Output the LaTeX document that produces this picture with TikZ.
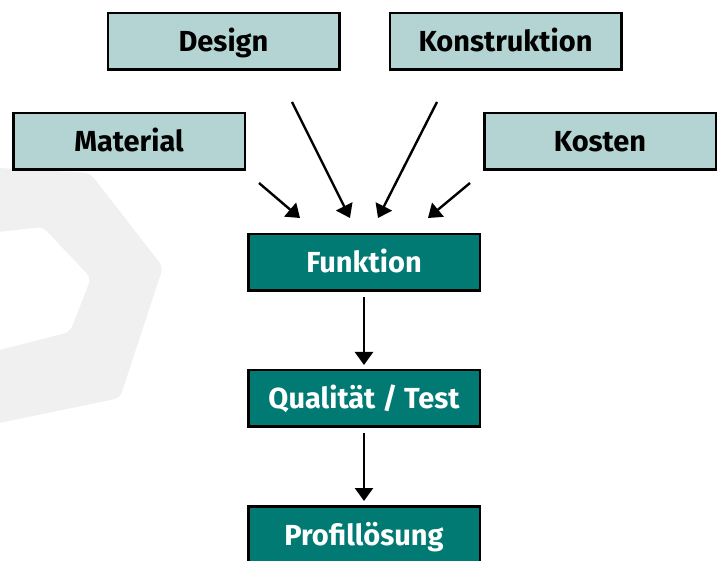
\documentclass[tikz,border=0pt]{standalone}
\usepackage{fontspec}
\setmainfont{Fira Sans}
\usetikzlibrary{positioning,calc,arrows.meta}
\definecolor{lightteal}{RGB}{179,212,211}
\definecolor{darkteal}{RGB}{0,122,115}
\definecolor{bggray}{RGB}{240,240,240}

\begin{document}
\begin{tikzpicture}[
    x=1pt, y=1pt,
    every node/.style={draw=black, line width=2.5pt, inner sep=0,
        minimum width=231.5pt, minimum height=56.5pt,
        text height=21pt, text depth=0pt,
        font=\fontsize{29}{32}\selectfont\bfseries},
    inbox/.style={fill=lightteal, text=black},
    outbox/.style={fill=darkteal, text=white},
    arr/.style={-{Triangle[width=18pt,length=13pt]}, line width=2.4pt}
]
\useasboundingbox (0,0) rectangle (723,560) ;
\fill[bggray, rounded corners=6pt, even odd rule]
    (-20,393) -- (90,387) -- (163,293) -- (120,162) -- (-20,133) -- cycle
    (-20,326) -- (43,333) -- (91,282) -- (70,228) -- (-20,205) -- cycle ;
\node[inbox] (design) at (223.5,518.5) {Design} ;
\node[inbox] (konstr) at (505.5,518.5) {Konstruktion} ;
\node[inbox] (material) at (129,418.5) {Material} ;
\node[inbox] (kosten) at (600,418.5) {Kosten} ;
\node[outbox] (funktion) at (364,297.5) {Funktion} ;
\node[outbox, below=77pt of funktion] (quali) {Qualität / Test} ;
\node[outbox, below=77pt of quali] (profil) {Profillösung} ;
\draw[arr] ($(material.south east)+(13,-12)$) -- ($(funktion.north)+(-64,15)$) ;
\draw[arr] ($(design.south)+(68.5,-31)$) -- ($(funktion.north)+(-14,15)$) ;
\draw[arr] ($(konstr.south)+(-68.5,-31)$) -- ($(funktion.north)+(14,15)$) ;
\draw[arr] ($(kosten.south west)+(-13,-12)$) -- ($(funktion.north)+(64,15)$) ;
\draw[arr, shorten <=5pt, shorten >=4pt] (funktion) -- (quali) ;
\draw[arr, shorten <=5pt, shorten >=4pt] (quali) -- (profil) ;
\end{tikzpicture}
\end{document}
